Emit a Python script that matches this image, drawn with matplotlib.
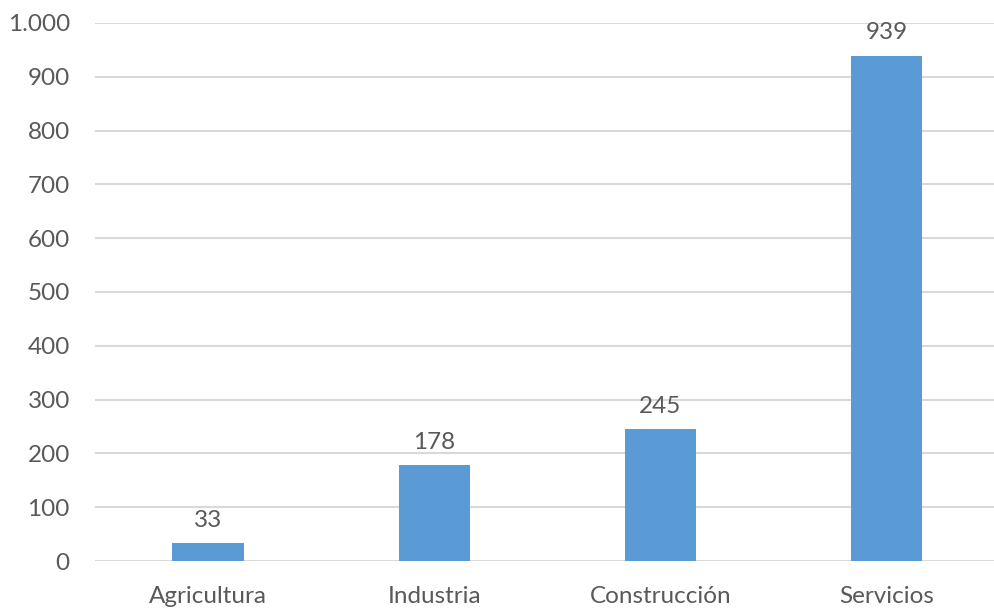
import matplotlib.pyplot as plt
from matplotlib.ticker import FuncFormatter

categories = ["Agricultura", "Industria", "Construcción", "Servicios"]
values = [33, 178, 245, 939]

plt.rcParams['font.family'] = ['Lato', 'DejaVu Sans']
text_color = '#595959'

fig = plt.figure(figsize=(9.95, 6.11), dpi=100)
ax = fig.add_axes([0.0953, 0.0818, 0.9095, 0.8806])

x = range(len(categories))
bars = ax.bar(x, values, width=0.315, color='#5B9BD5', zorder=3)

for xi, v in zip(x, values):
    ax.annotate(str(v), (xi, v), xytext=(0, 9), textcoords='offset points',
                ha='center', va='bottom', fontsize=17.5, color=text_color)

ax.set_xlim(-0.5, 3.5)
ax.set_ylim(0, 1000)
ax.set_yticks(range(0, 1001, 100))
ax.yaxis.set_major_formatter(FuncFormatter(lambda v, p: f"{int(v):,}".replace(",", ".")))
ax.set_xticks(list(x))
ax.set_xticklabels(categories)
ax.grid(axis='y', color='#D9D9D9', linewidth=1.5, zorder=0)
for s in ax.spines.values():
    s.set_visible(False)
ax.tick_params(axis='both', length=0, labelsize=17.5, labelcolor=text_color)
ax.tick_params(axis='y', pad=18)
ax.tick_params(axis='x', pad=18)

fig.savefig('out.png', dpi=100)
